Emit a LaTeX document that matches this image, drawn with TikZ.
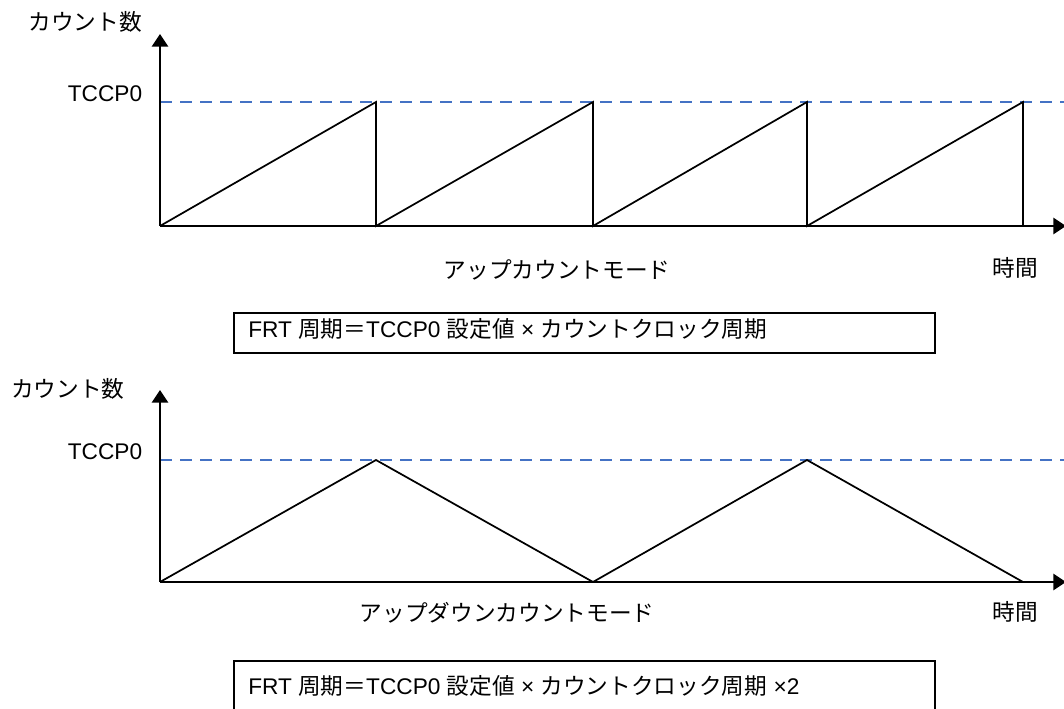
\documentclass[tikz,border=0pt]{standalone}
\usepackage{fontspec}
\setmainfont{Liberation Sans}
\newfontfamily\jp{Noto Sans CJK JP}
\newcommand{\J}[1]{{\jp #1}}
\usetikzlibrary{arrows.meta}
\definecolor{dashblue}{HTML}{4472C4}
\begin{document}
\begin{tikzpicture}[x=0.75pt,y=-0.75pt,
  axis/.style={line width=2.1pt,-{Triangle[length=9.5pt,width=12pt]}},
  wave/.style={line width=1.3pt,line join=miter},
  refline/.style={line width=1.2pt,draw=dashblue,dash pattern=on 9pt off 6pt},
  lab/.style={inner sep=0pt,font=\fontsize{17}{20}\selectfont},
  boxst/.style={draw,line width=1.3pt,inner sep=0pt}]
\useasboundingbox (0,0) rectangle (1064,709);
% ---------- top chart ----------
\coordinate (o1) at (160,226);
\coordinate (y1) at (160,34);
\coordinate (x1) at (1066,226);
\coordinate (d1s) at (160,102);
\coordinate (d1e) at (1064,102);
\coordinate (t1) at (376,102); \coordinate (b1) at (376,226);
\coordinate (t2) at (593,102); \coordinate (b2) at (593,226);
\coordinate (t3) at (807,102); \coordinate (b3) at (807,226);
\coordinate (t4) at (1023,102); \coordinate (b4) at (1023,226);
\draw[refline] (d1s) -- (d1e);
\draw[wave] (o1) -- (t1) -- (b1) -- (t2) -- (b2) -- (t3) -- (b3) -- (t4) -- (b4);
\draw[axis] (o1) -- (y1);
\draw[axis] (o1) -- (x1);
\node[lab] (ylab1) at (85,22) {\J{カウント数}};
\node[lab] (tc1) at (105,94) {TCCP0};
\node[lab] (mode1) at (557,270) {\J{アップカウントモード}};
\node[lab] (time1) at (1015,268) {\J{時間}};
\node[boxst,anchor=north west,minimum width=525.75pt,minimum height=30pt] (box1) at (233,312) {};
\node[lab,anchor=west] (f1) at (248,329) {FRT \J{周期＝}TCCP0 \J{設定値} × \J{カウントクロック周期}};
% ---------- bottom chart ----------
\coordinate (o2) at (160,582);
\coordinate (y2) at (160,390);
\coordinate (x2) at (1066,582);
\coordinate (d2s) at (160,460);
\coordinate (d2e) at (1064,460);
\coordinate (p1) at (376,460);
\coordinate (v1) at (593,582);
\coordinate (p2) at (807,460);
\coordinate (v2) at (1023,582);
\draw[refline] (d2s) -- (d2e);
\draw[wave] (o2) -- (p1) -- (v1) -- (p2) -- (v2);
\draw[axis] (o2) -- (y2);
\draw[axis] (o2) -- (x2);
\node[lab] (ylab2) at (68,389) {\J{カウント数}};
\node[lab] (tc2) at (105,452) {TCCP0};
\node[lab] (mode2) at (507,613) {\J{アップダウンカウントモード}};
\node[lab] (time2) at (1015,612) {\J{時間}};
\node[boxst,anchor=north west,minimum width=525.75pt,minimum height=45pt] (box2) at (233,660) {};
\node[lab,anchor=west] (f2) at (248,686) {FRT \J{周期＝}TCCP0 \J{設定値} × \J{カウントクロック周期} ×2};
\end{tikzpicture}
\end{document}
